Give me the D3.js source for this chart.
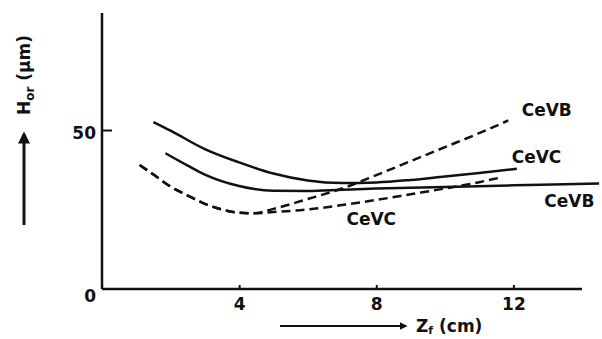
<!DOCTYPE html>
<html><head><meta charset="utf-8">
<script src="https://cdn.jsdelivr.net/npm/d3@7"></script>
<style>html,body{margin:0;padding:0;background:#fff}svg{display:block}</style>
</head><body>
<script>
// ---- data ----
const xTicks = [4, 8, 12];
const yTicks = [0, 50];
const cevcSolidZ = [1.5, 2.0, 3.0, 4.0, 5.0, 6.0, 7.0, 8.0, 9.0, 10.0, 11.0, 12.1];
const cevcSolidH = [52.5, 49.8, 44.0, 39.8, 36.3, 34.1, 33.3, 33.5, 34.3, 35.4, 36.5, 37.8];
const cevbSolidZ = [1.85, 2.5, 3.0, 4.0, 5.0, 6.0, 7.0, 8.0, 10.0, 12.0, 14.5];
const cevbSolidH = [42.7, 38.8, 36.0, 32.4, 30.9, 30.8, 31.2, 31.6, 32.1, 32.6, 33.2];
const cevbDashZ = [1.1, 1.5, 2.0, 2.5, 3.0, 3.5, 4.0, 4.4, 5.0, 6.0, 7.0, 8.0, 9.0, 10.0, 11.0, 11.85];
const cevbDashH = [39.0, 36.0, 32.2, 29.4, 26.8, 25.0, 24.0, 23.8, 25.2, 28.3, 31.6, 35.8, 40.2, 44.6, 49.0, 53.0];
const cevcDashZ = [1.1, 1.5, 2.0, 2.5, 3.0, 3.5, 4.0, 4.4, 5.0, 6.0, 7.0, 8.0, 9.0, 10.0, 11.0, 11.6];
const cevcDashH = [39.0, 36.0, 32.2, 29.4, 26.8, 25.0, 24.0, 23.8, 24.2, 25.0, 26.4, 28.0, 29.8, 31.6, 33.6, 35.0];
const labelText = ["CeVB", "CeVC", "CeVB", "CeVC"];
const labelZ = [12.24, 11.95, 12.9, 7.13];
const labelH = [54.4, 39.6, 25.8, 20.1];

const W = 602, H = 339;
const svg = d3.select("body").append("svg").attr("width", W).attr("height", H);
const font = "'DejaVu Sans', sans-serif";
const ink = "#111";

const x = d3.scaleLinear().domain([0, 14]).range([102, 582]);
const y = d3.scaleLinear().domain([0, 86.8]).range([289, 13]);

// axes
const xAxis = svg.append("g").attr("transform", `translate(0,${y(0)})`)
  .call(d3.axisBottom(x).tickValues(xTicks).tickSize(-4).tickPadding(9).tickFormat(d3.format("d")));
const yAxis = svg.append("g").attr("transform", `translate(${x(0)},0)`)
  .call(d3.axisLeft(y).tickValues(yTicks).tickSize(-10).tickPadding(5).tickFormat(d3.format("d")));
[xAxis, yAxis].forEach(g => {
  g.select(".domain").attr("stroke", ink).attr("stroke-width", 2.5);
  g.selectAll(".tick line").attr("stroke", ink).attr("stroke-width", 2);
  g.selectAll(".tick text").attr("font-family", font).attr("font-weight", "bold")
    .attr("font-size", 17).attr("fill", ink);
});
xAxis.select(".domain").attr("d", `M${x(0)},0H${x(14)}`);
yAxis.select(".domain").attr("d", `M0,${y(86.8)}V${y(0)}`);
yAxis.selectAll(".tick").filter(d => d === 0).select("line").remove();
yAxis.selectAll(".tick").filter(d => d === 0).select("text").attr("dy", "0.75em").attr("x", -6);
yAxis.selectAll(".tick").filter(d => d === 50).select("text").attr("dy", "0.5em").attr("x", -6);

// curves
const line = d3.line().x(d => x(d[0])).y(d => y(d[1])).curve(d3.curveMonotoneX);
const series = [
  {z: cevcSolidZ, h: cevcSolidH, dash: null},
  {z: cevbSolidZ, h: cevbSolidH, dash: null},
  {z: cevbDashZ, h: cevbDashH, dash: "9,5"},
  {z: cevcDashZ, h: cevcDashH, dash: "9,5"}
];
series.forEach(s => {
  svg.append("path").datum(s.z.map((z, i) => [z, s.h[i]]))
    .attr("d", line).attr("fill", "none").attr("stroke", ink)
    .attr("stroke-width", 2.5).attr("stroke-dasharray", s.dash);
});

// curve labels
labelText.forEach((t, i) => {
  svg.append("text").attr("x", x(labelZ[i])).attr("y", y(labelH[i]))
    .attr("font-family", font).attr("font-weight", "bold").attr("font-size", 17)
    .attr("fill", ink).text(t);
});

// arrow marker
svg.append("defs").append("marker").attr("id", "ah")
  .attr("viewBox", "0 0 10 10").attr("refX", 8).attr("refY", 5)
  .attr("markerWidth", 4).attr("markerHeight", 4).attr("orient", "auto")
  .attr("markerUnits", "strokeWidth")
  .append("path").attr("d", "M0,0L10,5L0,10Z").attr("fill", ink);

// y axis title with arrow
svg.append("line").attr("x1", 24).attr("y1", 225).attr("x2", 24).attr("y2", 134)
  .attr("stroke", ink).attr("stroke-width", 3).attr("marker-end", "url(#ah)");
const yt = svg.append("text").attr("transform", "translate(30,75) rotate(-90)")
  .attr("text-anchor", "middle").attr("font-family", font).attr("font-weight", "bold")
  .attr("font-size", 17).attr("fill", ink);
yt.append("tspan").text("H");
yt.append("tspan").attr("font-size", 12).attr("dy", 4).text("or");
yt.append("tspan").attr("dy", -4).text(" (μm)");

// x axis title with arrow
svg.append("line").attr("x1", 280).attr("y1", 326).attr("x2", 406).attr("y2", 326)
  .attr("stroke", ink).attr("stroke-width", 2).attr("marker-end", "url(#ah)");
const xt = svg.append("text").attr("x", 416).attr("y", 332)
  .attr("font-family", font).attr("font-weight", "bold").attr("font-size", 17).attr("fill", ink);
xt.append("tspan").text("Z");
xt.append("tspan").attr("font-size", 11).attr("dy", 2).text("f");
xt.append("tspan").attr("dy", -2).text(" (cm)");
</script>
</body></html>
